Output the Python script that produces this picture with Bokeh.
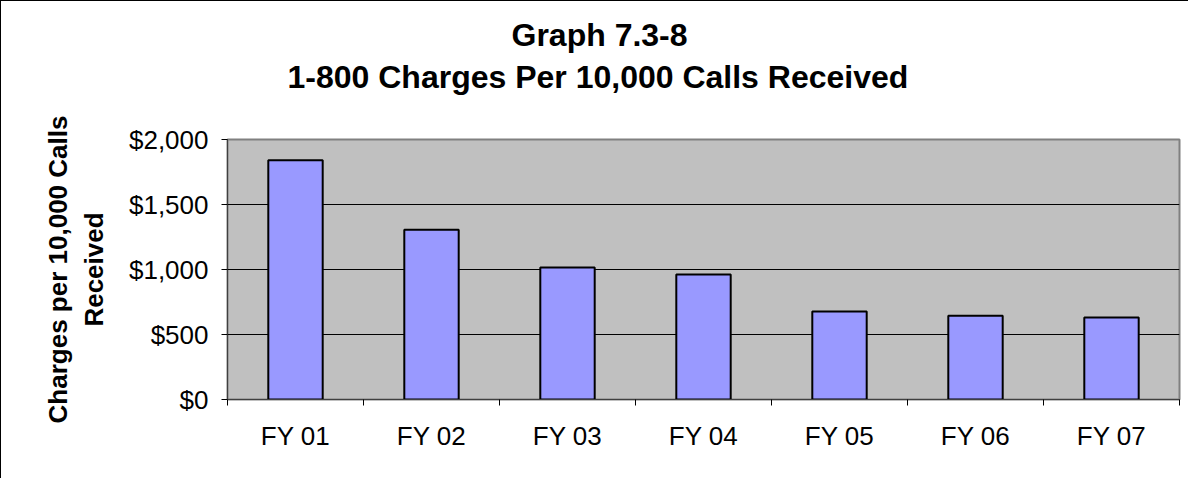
from bokeh.plotting import figure
from bokeh.models import FixedTicker, NumeralTickFormatter, Title, Range1d, LinearAxis
from bokeh.embed import file_html
from bokeh.resources import INLINE

categories = ["FY 01", "FY 02", "FY 03", "FY 04", "FY 05", "FY 06", "FY 07"]
charges = [1841, 1305, 1015, 962, 677, 644, 631]
y_ticks = [0, 500, 1000, 1500, 2000]
title_lines = ["Graph 7.3-8", "1-800 Charges Per 10,000 Calls Received"]
y_label = "Charges per 10,000 Calls\nReceived"

n = len(categories)
xs = [i + 0.5 for i in range(n)]
FONT = "Liberation Sans"

p = figure(width=1188, height=478, output_backend="svg", toolbar_location=None,
           x_range=Range1d(0, n), y_range=Range1d(0, 2000),
           min_border_left=226, min_border_right=10, min_border_top=138,
           min_border_bottom=80)
p.styles = {"border-left": "1px solid black", "border-top": "1px solid black"}
p.background_fill_color = "#C0C0C0"
p.border_fill_color = "white"
p.outline_line_color = "#808080"
p.outline_line_width = 2

p.vbar(x=xs, top=charges, width=0.4, fill_color="#9999FF",
       line_color="black", line_width=2)

# invisible spacer (nearest the frame) to lift the title block
spacer = LinearAxis(ticker=FixedTicker(ticks=[xs[0]]), axis_line_color=None,
                    major_tick_line_color=None, minor_tick_line_color=None,
                    major_tick_out=45, major_tick_in=0, minor_tick_out=0,
                    minor_tick_in=0, major_label_standoff=0,
                    major_label_overrides={xs[0]: ""},
                    major_label_text_font_size="1px")
p.add_layout(spacer, "above")

# titles (outermost: figure title = first line)
p.title.text = title_lines[0]
p.title.align = "left"
p.title.offset = 284
p.title.text_font = FONT
p.title.text_font_size = "32px"
p.title.text_font_style = "bold"
p.title.text_color = "black"
p.title.standoff = 8
p.add_layout(Title(text=title_lines[1], align="left", offset=60,
                   text_font=FONT, text_font_size="32px",
                   text_font_style="bold", text_color="black", standoff=0),
             "above")

# grid
p.xgrid.grid_line_color = None
p.ygrid.grid_line_color = "black"
p.ygrid.grid_line_width = 1
p.ygrid.ticker = FixedTicker(ticks=y_ticks)

# x axis
xa = p.below[0]
xa.ticker = FixedTicker(ticks=xs, minor_ticks=list(range(n + 1)))
xa.major_label_overrides = {x: c for x, c in zip(xs, categories)}
xa.major_tick_line_color = None
xa.major_tick_out = 0
xa.major_tick_in = 0
xa.minor_tick_line_color = "black"
xa.minor_tick_out = 6
xa.minor_tick_in = 0
xa.axis_line_color = "#404040"
xa.major_label_text_font = FONT
xa.major_label_text_font_size = "26px"
xa.major_label_text_color = "black"
xa.major_label_standoff = 15

# y axis
ya = p.left[0]
ya.ticker = FixedTicker(ticks=y_ticks)
ya.formatter = NumeralTickFormatter(format="$0,0")
ya.major_tick_line_color = "black"
ya.major_tick_out = 6
ya.major_tick_in = 0
ya.minor_tick_line_color = None
ya.axis_line_color = "#404040"
ya.major_label_text_font = FONT
ya.major_label_text_font_size = "26px"
ya.major_label_text_color = "black"
ya.major_label_standoff = 13
ya.axis_label = y_label
ya.axis_label_text_font = FONT
ya.axis_label_text_font_size = "26px"
ya.axis_label_text_font_style = "bold"
ya.axis_label_text_color = "black"
ya.axis_label_standoff = 17

open("out.html", "w").write(file_html(p, INLINE))
